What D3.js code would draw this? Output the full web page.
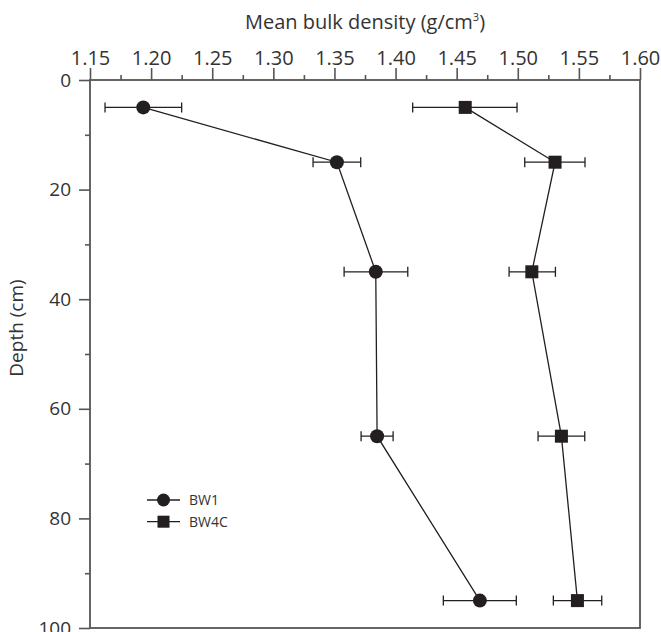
<!DOCTYPE html>
<html><head><meta charset="utf-8">
<script src="https://cdn.jsdelivr.net/npm/d3@7/dist/d3.min.js"></script>
<style>body{margin:0;background:#fff}svg{display:block}text{font-family:"Open Sans",sans-serif;fill:#333}</style>
</head><body><svg id="c" width="661" height="632"></svg>
<script>
const depths = [5, 15, 35, 65, 95];
const bw1Mean = [1.1936, 1.352, 1.3838, 1.3849, 1.469];
const bw1Lo   = [1.1623, 1.3325, 1.3579, 1.3718, 1.4391];
const bw1Hi   = [1.2250, 1.3715, 1.4100, 1.3980, 1.4988];
const bw4cMean = [1.457, 1.5305, 1.5115, 1.5357, 1.5488];
const bw4cLo   = [1.4140, 1.5057, 1.4929, 1.5166, 1.5291];
const bw4cHi   = [1.4994, 1.5550, 1.5308, 1.5548, 1.5687];
const xTicks = [1.15,1.20,1.25,1.30,1.35,1.40,1.45,1.50,1.55,1.60];
const yTicks = [0,20,40,60,80,100];
const seriesNames = ["BW1","BW4C"];

const svg = d3.select("#c");
const L=90, R=640, T=80, B=628;
const x = d3.scaleLinear().domain([1.15,1.60]).range([L,R]);
const y = d3.scaleLinear().domain([0,100]).range([T,B]);
const ink = "#231f20", axc = "#555";

// frame
svg.append("rect").attr("x",L).attr("y",T).attr("width",R-L).attr("height",B-T)
  .attr("fill","none").attr("stroke",axc).attr("stroke-width",1.8);

// top axis
const xMinor = d3.range(1.175,1.6,0.05);
const gx = svg.append("g").attr("transform",`translate(0,${T})`);
gx.call(d3.axisTop(x).tickValues(xMinor).tickSize(5).tickFormat(""));
gx.append("g").call(d3.axisTop(x).tickValues(xTicks).tickSize(12).tickPadding(3).tickFormat(d3.format(".2f")));
gx.selectAll(".domain").remove();
gx.selectAll("line").attr("stroke",axc).attr("stroke-width",1.6);
gx.selectAll("text").attr("font-size",20).attr("fill","#333").attr("font-family","Open Sans");

// left axis
const gy = svg.append("g").attr("transform",`translate(${L},0)`);
gy.call(d3.axisLeft(y).tickValues([10,30,50,70,90]).tickSize(5).tickFormat(""));
gy.append("g").call(d3.axisLeft(y).tickValues(yTicks).tickSize(11).tickPadding(8).tickFormat(d3.format("d")));
gy.selectAll(".domain").remove();
gy.selectAll("line").attr("stroke",axc).attr("stroke-width",1.6);
gy.selectAll("text").attr("font-size",19).attr("fill","#333").attr("font-family","Open Sans");

// titles
const tt = svg.append("text").attr("x",(L+R)/2).attr("y",29).attr("text-anchor","middle").attr("font-size",20);
tt.append("tspan").text("Mean bulk density (g/cm");
tt.append("tspan").text("3").attr("font-size",11).attr("dy",-8);
tt.append("tspan").text(")").attr("dy",8);
svg.append("text").attr("transform","translate(23,328) rotate(-90)").attr("text-anchor","middle")
  .attr("font-size",19).text("Depth (cm)");

function drawSeries(mean, lo, hi, shape){
  const g = svg.append("g");
  const pts = depths.map((d,i)=>({d, m:mean[i], lo:lo[i], hi:hi[i]}));
  g.append("path").datum(pts).attr("fill","none").attr("stroke",ink).attr("stroke-width",1.3)
    .attr("d", d3.line().x(p=>x(p.m)).y(p=>y(p.d)));
  pts.forEach(p=>{
    g.append("line").attr("x1",x(p.lo)).attr("x2",x(p.hi)).attr("y1",y(p.d)).attr("y2",y(p.d)).attr("stroke",ink).attr("stroke-width",1.3);
    [p.lo,p.hi].forEach(v=>g.append("line").attr("x1",x(v)).attr("x2",x(v)).attr("y1",y(p.d)-5).attr("y2",y(p.d)+5).attr("stroke",ink).attr("stroke-width",1.3));
    if(shape==="circle") g.append("circle").attr("cx",x(p.m)).attr("cy",y(p.d)).attr("r",7).attr("fill",ink);
    else g.append("rect").attr("x",x(p.m)-6.5).attr("y",y(p.d)-6.5).attr("width",13).attr("height",13).attr("fill",ink);
  });
}
drawSeries(bw1Mean,bw1Lo,bw1Hi,"circle");
drawSeries(bw4cMean,bw4cLo,bw4cHi,"square");

// legend
const lg = svg.append("g");
seriesNames.forEach((n,i)=>{
  const yy = 500 + i*21.7;
  lg.append("line").attr("x1",147).attr("x2",180).attr("y1",yy).attr("y2",yy).attr("stroke",ink).attr("stroke-width",1.3);
  if(i===0) lg.append("circle").attr("cx",163.5).attr("cy",yy).attr("r",6.5).attr("fill",ink);
  else lg.append("rect").attr("x",157.5).attr("y",yy-6).attr("width",12).attr("height",12).attr("fill",ink);
  lg.append("text").attr("x",189).attr("y",yy+5).attr("font-size",14).text(n);
});
</script></body></html>
